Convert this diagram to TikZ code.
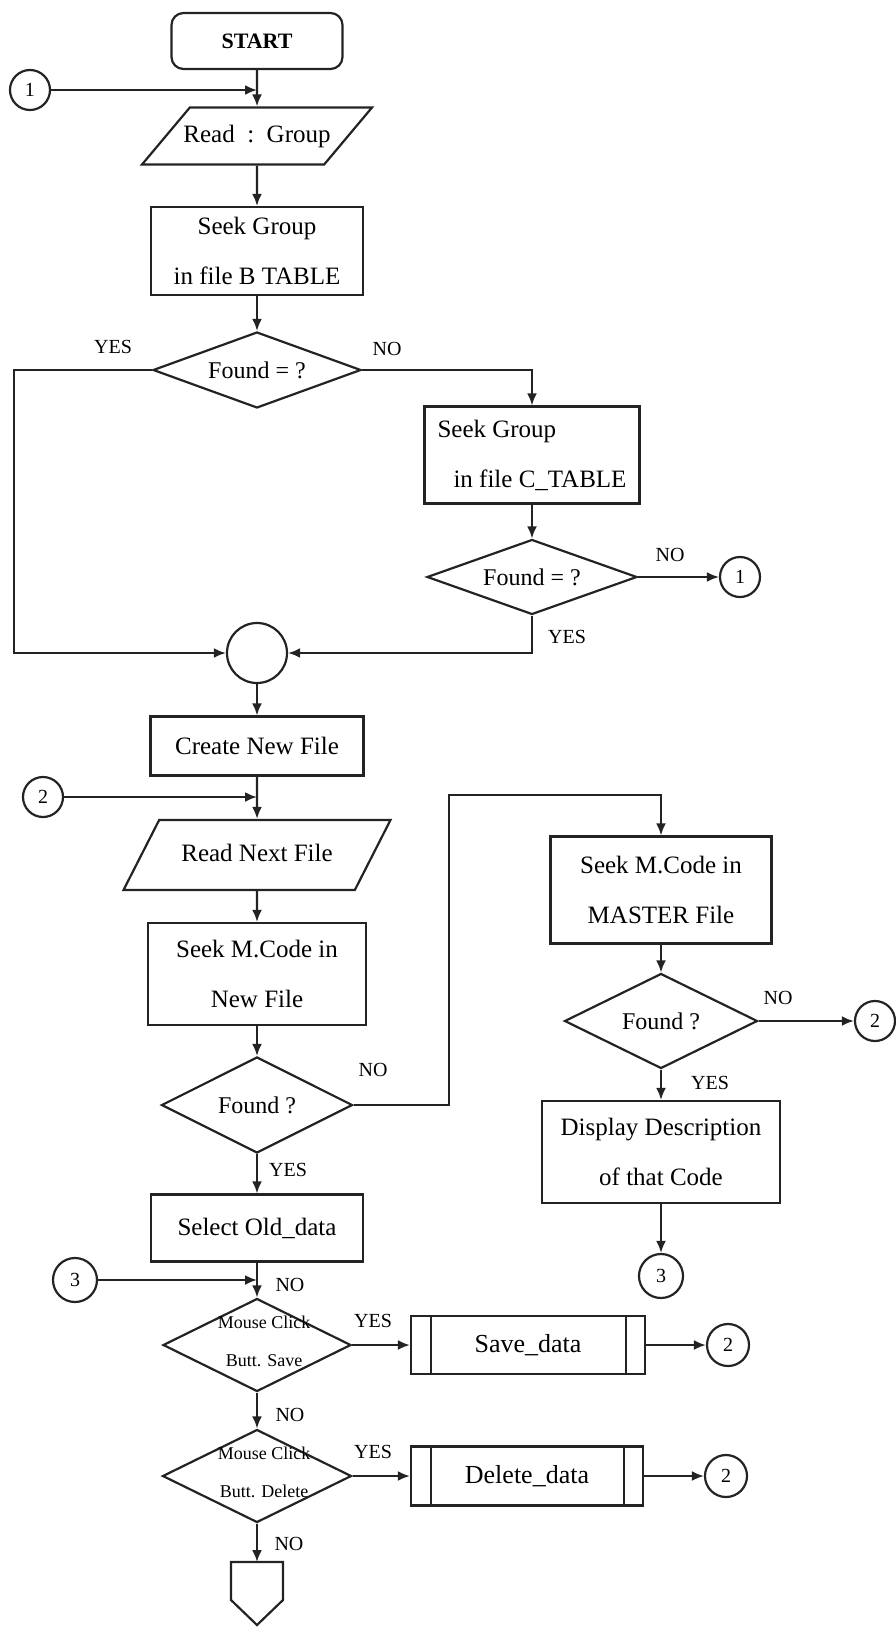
\documentclass[tikz,border=0pt]{standalone}
\usepackage{fontspec}
\setmainfont{Liberation Serif}
\usetikzlibrary{shapes.geometric, arrows.meta}

\begin{document}
\begin{tikzpicture}[x=0.5pt, y=-0.5pt,
    procbox/.style={draw=ink, line width=1.1pt, rectangle, align=center, inner sep=2pt, font=\fontsize{12.5}{25}\selectfont},
    iobox/.style={draw=ink, line width=1.1pt, trapezium, trapezium stretches body, inner xsep=2pt, text height=9pt, text depth=3pt, font=\fontsize{12.5}{15}\selectfont},
    decision/.style={draw=ink, line width=1.1pt, diamond, aspect=2.5, inner sep=0pt, font=\fontsize{12}{14}\selectfont},
    mousetext/.style={align=center, inner sep=0pt, font=\fontsize{9}{19}\selectfont},
    conn/.style={draw=ink, line width=1.1pt, circle, minimum size=20pt, inner sep=0pt, font=\fontsize{10}{12}\selectfont},
    answer/.style={inner sep=0pt, font=\fontsize{10}{12}\selectfont},
    flow/.style={draw=ink, line width=1.1pt, -{Latex[length=6pt, width=5pt]}},
]

% Define colors
\definecolor{ink}{RGB}{35, 35, 35}

% Page frame
\useasboundingbox (0,0) rectangle (895,1627);

% Group lookup
\node[procbox, rounded corners=6pt, minimum width=85.5pt, minimum height=28pt, font=\bfseries\fontsize{11}{13}\selectfont] (start) at (257,41) {START};
\node[conn] (inA) at (30,90) {1};
\coordinate (mergeA) at (257,90);
\node[iobox, trapezium left angle=50, trapezium right angle=130, inner ysep=8.25pt, inner xsep=-3.5pt, minimum width=115pt] (readGrp) at (257,136) {Read\enspace:\enspace Group};
\node[procbox, minimum width=106pt, minimum height=44pt] (seekB) at (257,251) {Seek Group\\in file B TABLE};
\node[decision, minimum width=104pt, minimum height=38pt] (foundB) at (257,370) {Found = ?};
\node[procbox, minimum width=107.5pt, minimum height=48.5pt, align=left] (seekC) at (532,455) {Seek Group\\\hspace*{8pt}in file C\_TABLE};
\node[decision, minimum width=105pt, minimum height=37.5pt] (foundC) at (532,577) {Found = ?};
\node[conn] (outA) at (740,577) {1};
\coordinate (loopL) at (14,653);
\node[circle, draw=ink, line width=1.1pt, minimum size=30pt, inner sep=0pt] (joint) at (257,653) {};

% New file
\node[procbox, minimum width=106.5pt, minimum height=29.5pt] (newFile) at (257,746) {Create New File};
\node[conn] (inB) at (43,797) {2};
\coordinate (mergeB) at (257,797);
\node[iobox, trapezium left angle=63, trapezium right angle=117, inner ysep=11.5pt, minimum width=133.5pt] (readNext) at (257,855) {Read Next File};
\node[procbox, minimum width=109pt, minimum height=51pt] (seekNew) at (257,974) {Seek M.Code in\\New File};
\node[decision, minimum width=95.5pt, minimum height=48pt] (foundNew) at (257,1105) {Found ?};
\coordinate (turn) at (449,795);

% Master file branch
\node[procbox, minimum width=110.5pt, minimum height=53.5pt] (seekMaster) at (661,890) {Seek M.Code in\\MASTER File};
\node[decision, minimum width=96.5pt, minimum height=47.5pt] (foundMaster) at (661,1021) {Found ?};
\node[conn] (outB) at (875,1021) {2};
\node[procbox, minimum width=119pt, minimum height=51pt] (showDesc) at (661,1152) {Display Description\\of that Code};
\node[conn, minimum size=22pt] (outC) at (661,1276) {3};

% Old data and buttons
\node[procbox, minimum width=106pt, minimum height=33.5pt] (selOld) at (257,1228) {Select Old\_data};
\node[conn, minimum size=22pt] (inC) at (75,1280) {3};
\coordinate (mergeC) at (257,1280);
\node[decision, minimum width=94pt, minimum height=46.5pt] (clickSave) at (257,1345) {};
\node[mousetext] (clickSaveTxt) at (264,1341) {Mouse Click\\Butt. Save};
\node[procbox, minimum width=117pt, minimum height=29pt, font=\fontsize{13}{15}\selectfont] (saveData) at (528,1345) {Save\_data};
\draw[ink, line width=1.1pt] ([xshift=10.5pt]saveData.north west) -- ([xshift=10.5pt]saveData.south west);
\draw[ink, line width=1.1pt] ([xshift=-10pt]saveData.north east) -- ([xshift=-10pt]saveData.south east);
\node[conn, minimum size=21pt] (outD) at (728,1345) {2};
\node[decision, minimum width=94.5pt, minimum height=46.5pt] (clickDel) at (257,1476) {};
\node[mousetext] (clickDelTxt) at (264,1472) {Mouse Click\\Butt. Delete};
\node[procbox, minimum width=116pt, minimum height=29.5pt, font=\fontsize{13}{15}\selectfont] (delData) at (527,1476) {Delete\_data};
\draw[ink, line width=1.1pt] ([xshift=10.5pt]delData.north west) -- ([xshift=10.5pt]delData.south west);
\draw[ink, line width=1.1pt] ([xshift=-10pt]delData.north east) -- ([xshift=-10pt]delData.south east);
\node[conn, minimum size=21pt] (outE) at (726,1476) {2};

% Off-page connector
\coordinate (offPage) at (257,1562);
\draw[ink, line width=1.1pt] (231,1562) -- (283,1562) -- (283,1600) -- (257,1625) -- (231,1600) -- cycle;

% Answers
\node[answer] (yesB) at (113,347) {YES};
\node[answer] (noB) at (387,349) {NO};
\node[answer] (noC) at (670,555) {NO};
\node[answer] (yesC) at (567,637) {YES};
\node[answer] (noNew) at (373,1070) {NO};
\node[answer] (yesNew) at (288,1170) {YES};
\node[answer] (noMaster) at (778,998) {NO};
\node[answer] (yesMaster) at (710,1083) {YES};
\node[answer] (noIn) at (290,1285) {NO};
\node[answer] (yesSave) at (373,1321) {YES};
\node[answer] (noSave) at (290,1415) {NO};
\node[answer] (yesDel) at (373,1452) {YES};
\node[answer] (noDel) at (289,1544) {NO};

% Flow lines
\draw[flow] (start) -- (readGrp);
\draw[flow] (inA) -- (mergeA);
\draw[flow] (readGrp) -- (seekB);
\draw[flow] (seekB) -- (foundB);
\draw[flow] (foundB.west) -| (loopL) -- (joint.west);
\draw[flow] (foundB.east) -| (seekC.north);
\draw[flow] (seekC) -- (foundC);
\draw[flow] (foundC.east) -- (outA);
\draw[flow] (foundC.south) |- (joint.east);
\draw[flow] (joint) -- (newFile);
\draw[flow] (newFile) -- (readNext);
\draw[flow] (inB) -- (mergeB);
\draw[flow] (readNext) -- (seekNew);
\draw[flow] (seekNew) -- (foundNew);
\draw[flow] (foundNew.east) -| (turn) -| (seekMaster.north);
\draw[flow] (seekMaster) -- (foundMaster);
\draw[flow] (foundMaster.east) -- (outB);
\draw[flow] (foundMaster) -- (showDesc);
\draw[flow] (showDesc) -- (outC);
\draw[flow] (foundNew) -- (selOld);
\draw[flow] (selOld) -- (clickSave);
\draw[flow] (inC) -- (mergeC);
\draw[flow] (clickSave.east) -- (saveData.west);
\draw[flow] (saveData) -- (outD);
\draw[flow] (clickSave) -- (clickDel);
\draw[flow] (clickDel.east) -- (delData.west);
\draw[flow] (delData) -- (outE);
\draw[flow] (clickDel) -- (offPage);

\end{tikzpicture}
\end{document}
